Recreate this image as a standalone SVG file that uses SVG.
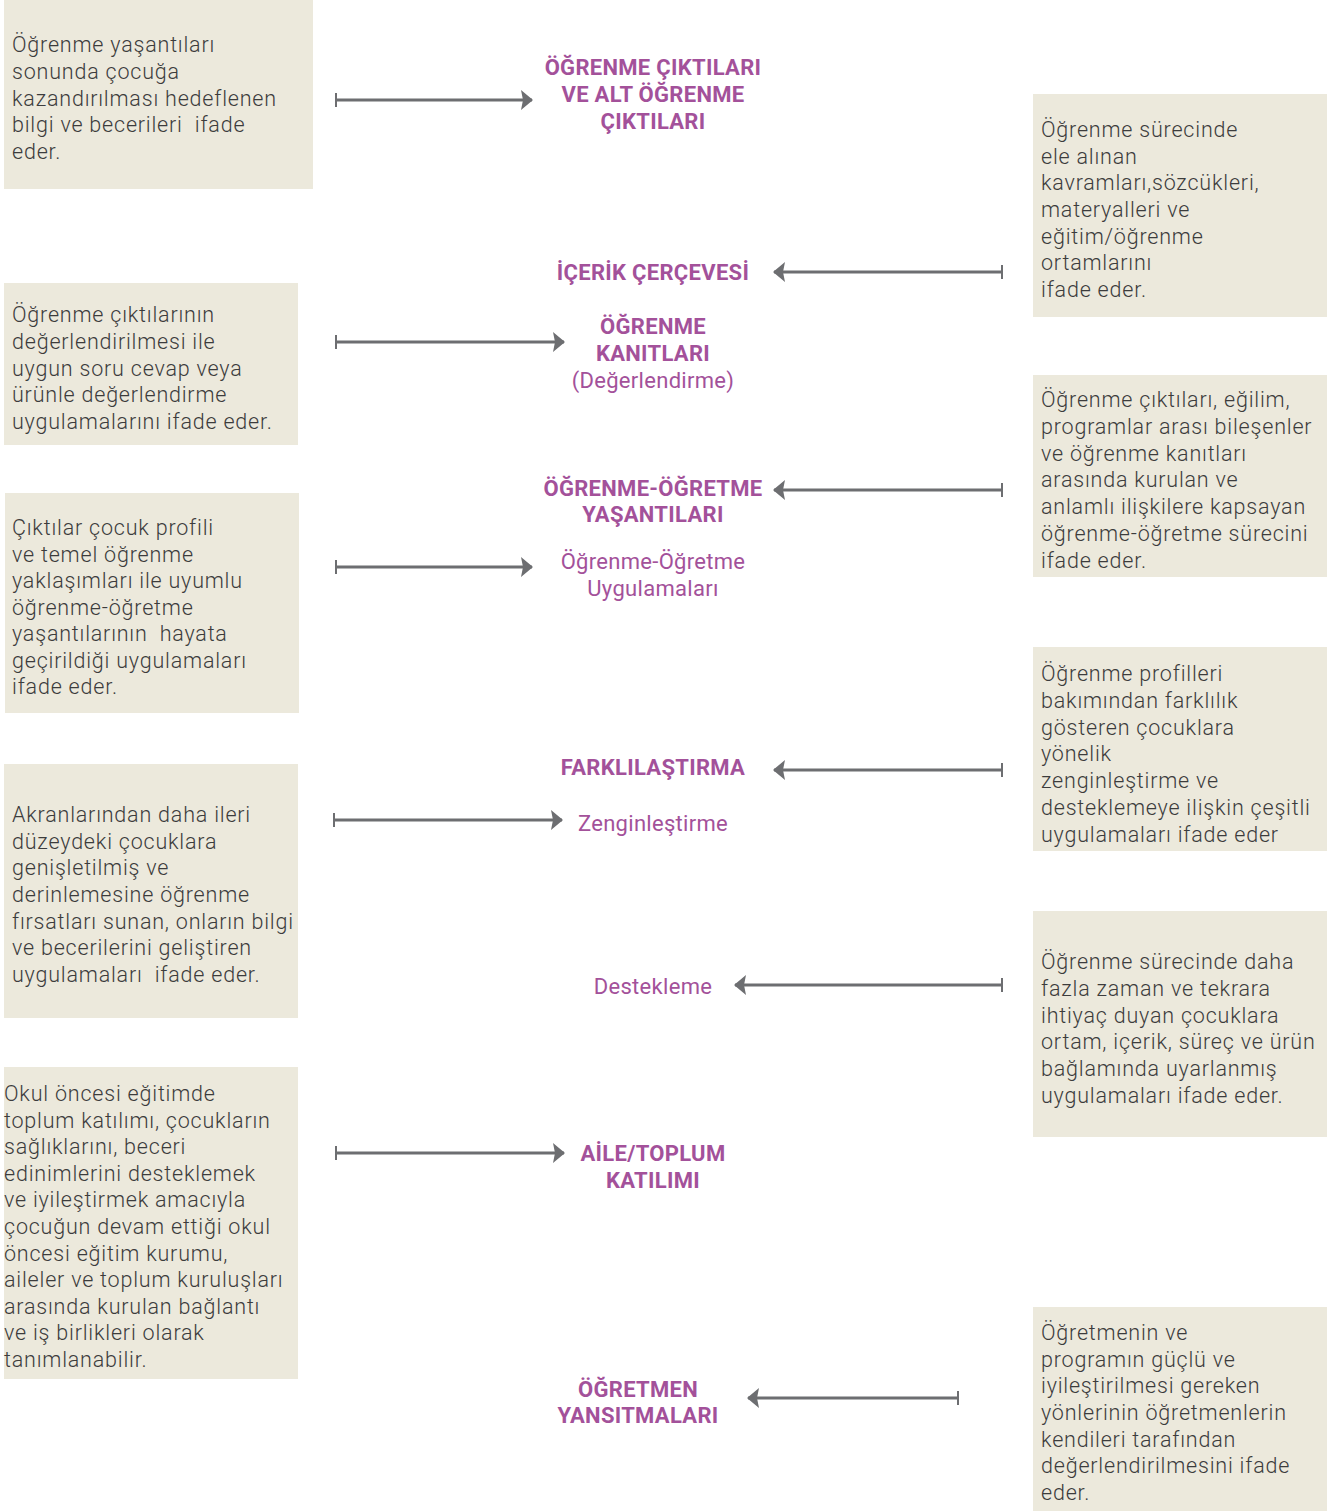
<svg xmlns="http://www.w3.org/2000/svg" width="1341" height="1511" viewBox="0 0 1341 1511">
<defs>
<style>
.box{fill:#ece9dc}
.bt{font-family:Roboto,"Liberation Sans",sans-serif;font-weight:300;font-size:21.5px;letter-spacing:0.8px;fill:#3c3c3c;white-space:pre}
.h{font-family:Roboto,"Liberation Sans",sans-serif;font-weight:700;font-size:22px;letter-spacing:0.3px;fill:#a3519a;text-anchor:middle}
.s{font-family:Roboto,"Liberation Sans",sans-serif;font-weight:400;font-size:22px;letter-spacing:0.3px;fill:#a3519a;text-anchor:middle}
.c{stroke:#6d6e71;stroke-width:3;fill:none}
</style>
<marker id="ah" markerWidth="13" markerHeight="20" viewBox="0 0 13 20" refX="12" refY="10" orient="auto" markerUnits="userSpaceOnUse">
<path d="M1,0 L13,10 L1,20 L3,10 Z" fill="#6d6e71"/>
</marker>
<marker id="tk" markerWidth="4" markerHeight="14" viewBox="0 0 4 14" refX="2" refY="7" orient="auto" markerUnits="userSpaceOnUse">
<rect x="1" y="0" width="2" height="14" fill="#6d6e71"/>
</marker>
</defs>
<rect width="1341" height="1511" fill="#ffffff"/>

<g id="left1"><rect class="box" x="4" y="0" width="309" height="189"/>
<text class="bt"><tspan x="12" y="52">Öğrenme yaşantıları</tspan><tspan x="12" y="79">sonunda çocuğa</tspan><tspan x="12" y="106">kazandırılması hedeflenen</tspan><tspan x="12" y="132">bilgi ve becerileri  ifade</tspan><tspan x="12" y="159">eder.</tspan></text></g>

<g id="left2"><rect class="box" x="4" y="283" width="294" height="162"/>
<text class="bt"><tspan x="12" y="322">Öğrenme çıktılarının</tspan><tspan x="12" y="349">değerlendirilmesi ile</tspan><tspan x="12" y="376">uygun soru cevap veya</tspan><tspan x="12" y="402">ürünle değerlendirme</tspan><tspan x="12" y="429">uygulamalarını ifade eder.</tspan></text></g>

<g id="left3"><rect class="box" x="5" y="493" width="294" height="220"/>
<text class="bt"><tspan x="12" y="535">Çıktılar çocuk profili</tspan><tspan x="12" y="562">ve temel öğrenme</tspan><tspan x="12" y="588">yaklaşımları ile uyumlu</tspan><tspan x="12" y="615">öğrenme-öğretme</tspan><tspan x="12" y="641">yaşantılarının  hayata</tspan><tspan x="12" y="668">geçirildiği uygulamaları</tspan><tspan x="12" y="694">ifade eder.</tspan></text></g>

<g id="left4"><rect class="box" x="4" y="764" width="294" height="254"/>
<text class="bt"><tspan x="12" y="822">Akranlarından daha ileri</tspan><tspan x="12" y="849">düzeydeki çocuklara</tspan><tspan x="12" y="875">genişletilmiş ve</tspan><tspan x="12" y="902">derinlemesine öğrenme</tspan><tspan x="12" y="929">fırsatları sunan, onların bilgi</tspan><tspan x="12" y="955">ve becerilerini geliştiren</tspan><tspan x="12" y="982">uygulamaları  ifade eder.</tspan></text></g>

<g id="left5"><rect class="box" x="4" y="1067" width="294" height="312"/>
<text class="bt"><tspan x="4" y="1101">Okul öncesi eğitimde</tspan><tspan x="4" y="1128">toplum katılımı, çocukların</tspan><tspan x="4" y="1154">sağlıklarını, beceri</tspan><tspan x="4" y="1181">edinimlerini desteklemek</tspan><tspan x="4" y="1207">ve iyileştirmek amacıyla</tspan><tspan x="4" y="1234">çocuğun devam ettiği okul</tspan><tspan x="4" y="1261">öncesi eğitim kurumu,</tspan><tspan x="4" y="1287">aileler ve toplum kuruluşları</tspan><tspan x="4" y="1314">arasında kurulan bağlantı</tspan><tspan x="4" y="1340">ve iş birlikleri olarak</tspan><tspan x="4" y="1367">tanımlanabilir.</tspan></text></g>

<g id="right1"><rect class="box" x="1033" y="94" width="294" height="223"/>
<text class="bt"><tspan x="1041" y="137">Öğrenme sürecinde</tspan><tspan x="1041" y="164">ele alınan</tspan><tspan x="1041" y="190">kavramları,sözcükleri,</tspan><tspan x="1041" y="217">materyalleri ve</tspan><tspan x="1041" y="244">eğitim/öğrenme</tspan><tspan x="1041" y="270">ortamlarını</tspan><tspan x="1041" y="297">ifade eder.</tspan></text></g>

<g id="right2"><rect class="box" x="1033" y="375" width="294" height="202"/>
<text class="bt"><tspan x="1041" y="407">Öğrenme çıktıları, eğilim,</tspan><tspan x="1041" y="434">programlar arası bileşenler</tspan><tspan x="1041" y="461">ve öğrenme kanıtları</tspan><tspan x="1041" y="487">arasında kurulan ve</tspan><tspan x="1041" y="514">anlamlı ilişkilere kapsayan</tspan><tspan x="1041" y="541">öğrenme-öğretme sürecini</tspan><tspan x="1041" y="568">ifade eder.</tspan></text></g>

<g id="right3"><rect class="box" x="1033" y="647" width="294" height="204"/>
<text class="bt"><tspan x="1041" y="681">Öğrenme profilleri</tspan><tspan x="1041" y="708">bakımından farklılık</tspan><tspan x="1041" y="735">gösteren çocuklara</tspan><tspan x="1041" y="761">yönelik</tspan><tspan x="1041" y="788">zenginleştirme ve</tspan><tspan x="1041" y="815">desteklemeye ilişkin çeşitli</tspan><tspan x="1041" y="842">uygulamaları ifade eder</tspan></text></g>

<g id="right4"><rect class="box" x="1033" y="911" width="294" height="226"/>
<text class="bt"><tspan x="1041" y="969">Öğrenme sürecinde daha</tspan><tspan x="1041" y="996">fazla zaman ve tekrara</tspan><tspan x="1041" y="1023">ihtiyaç duyan çocuklara</tspan><tspan x="1041" y="1049">ortam, içerik, süreç ve ürün</tspan><tspan x="1041" y="1076">bağlamında uyarlanmış</tspan><tspan x="1041" y="1103">uygulamaları ifade eder.</tspan></text></g>

<g id="right5"><rect class="box" x="1033" y="1307" width="294" height="204"/>
<text class="bt"><tspan x="1041" y="1340">Öğretmenin ve</tspan><tspan x="1041" y="1367">programın güçlü ve</tspan><tspan x="1041" y="1393">iyileştirilmesi gereken</tspan><tspan x="1041" y="1420">yönlerinin öğretmenlerin</tspan><tspan x="1041" y="1447">kendileri tarafından</tspan><tspan x="1041" y="1473">değerlendirilmesini ifade</tspan><tspan x="1041" y="1500">eder.</tspan></text></g>

<g id="n-ciktilar"><text class="h"><tspan x="653" y="75">ÖĞRENME ÇIKTILARI</tspan><tspan x="653" y="102">VE ALT ÖĞRENME</tspan><tspan x="653" y="129">ÇIKTILARI</tspan></text></g>
<g id="n-icerik"><text class="h" x="653" y="280">İÇERİK ÇERÇEVESİ</text></g>
<g id="n-kanitlar"><text class="h"><tspan x="653" y="334">ÖĞRENME</tspan><tspan x="653" y="361">KANITLARI</tspan></text><text class="s" x="653" y="388">(Değerlendirme)</text></g>
<g id="n-yasantilar"><text class="h"><tspan x="653" y="496">ÖĞRENME-ÖĞRETME</tspan><tspan x="653" y="522">YAŞANTILARI</tspan></text></g>
<g id="n-uygulamalar"><text class="s"><tspan x="653" y="569">Öğrenme-Öğretme</tspan><tspan x="653" y="596">Uygulamaları</tspan></text></g>
<g id="n-farklilastirma"><text class="h" x="653" y="775">FARKLILAŞTIRMA</text></g>
<g id="n-zenginlestirme"><text class="s" x="653" y="831">Zenginleştirme</text></g>
<g id="n-destekleme"><text class="s" x="653" y="994">Destekleme</text></g>
<g id="n-aile"><text class="h"><tspan x="653" y="1161">AİLE/TOPLUM</tspan><tspan x="653" y="1188">KATILIMI</tspan></text></g>
<g id="n-ogretmen"><text class="h"><tspan x="638" y="1397">ÖĞRETMEN</tspan><tspan x="638" y="1423">YANSITMALARI</tspan></text></g>

<g id="connectors">
<line class="c" x1="336" y1="100" x2="532" y2="100" marker-start="url(#tk)" marker-end="url(#ah)"/>
<line class="c" x1="1002" y1="272" x2="774" y2="272" marker-start="url(#tk)" marker-end="url(#ah)"/>
<line class="c" x1="336" y1="342" x2="564" y2="342" marker-start="url(#tk)" marker-end="url(#ah)"/>
<line class="c" x1="1002" y1="490" x2="774" y2="490" marker-start="url(#tk)" marker-end="url(#ah)"/>
<line class="c" x1="336" y1="567" x2="532" y2="567" marker-start="url(#tk)" marker-end="url(#ah)"/>
<line class="c" x1="1002" y1="770" x2="774" y2="770" marker-start="url(#tk)" marker-end="url(#ah)"/>
<line class="c" x1="334" y1="820" x2="562" y2="820" marker-start="url(#tk)" marker-end="url(#ah)"/>
<line class="c" x1="1002" y1="985" x2="735" y2="985" marker-start="url(#tk)" marker-end="url(#ah)"/>
<line class="c" x1="336" y1="1153" x2="564" y2="1153" marker-start="url(#tk)" marker-end="url(#ah)"/>
<line class="c" x1="958" y1="1398" x2="748" y2="1398" marker-start="url(#tk)" marker-end="url(#ah)"/>
</g>
</svg>
